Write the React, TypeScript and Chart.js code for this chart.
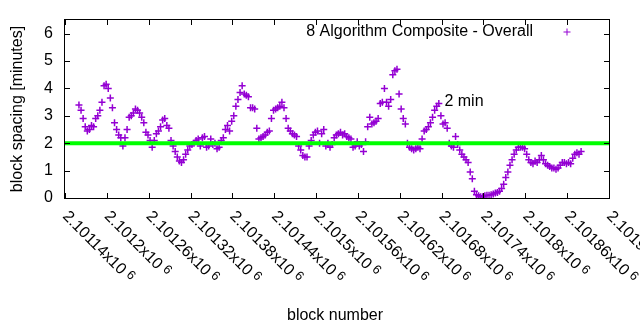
import React, { useEffect, useRef } from "react";
import { Chart, registerables } from "chart.js";

Chart.register(...registerables);

const SERIES_LABEL = "8 Algorithm Composite - Overall";
const TARGET_LABEL = "2 min";
const TARGET_MINUTES = 2;
const X_TITLE = "block number";
const Y_TITLE = "block spacing [minutes]";

const X_MIN = 2101140;
const X_MAX = 2101920;
const Y_MIN = 0;
const Y_MAX = 6.5;

const FIRST_BLOCK = 2101160;
const BLOCK_STEP = 3;

// block spacing in minutes, one value per BLOCK_STEP blocks starting at FIRST_BLOCK
const SPACING = [
  3.4, 3.2, 2.9, 2.6, 2.45, 2.5, 2.65, 2.6, 2.9, 3.0,
  3.2, 3.5, 4.1, 4.15, 4.0, 3.65, 3.3, 2.75, 2.5, 2.3,
  2.2, 1.9, 2.2, 2.5, 2.95, 3.0, 3.1, 3.25, 3.2, 3.1,
  2.95, 2.75, 2.4, 2.3, 2.1, 1.85, 2.1, 2.35, 2.45, 2.6,
  2.85, 2.9, 2.65, 2.55, 2.1, 1.9, 1.7, 1.5, 1.35, 1.3,
  1.4, 1.6, 1.75, 1.9, 1.95, 2.0, 2.1, 2.15, 1.9, 2.2,
  2.25, 1.85, 1.9, 2.15, 1.95, 2.0, 1.8, 1.85, 2.1, 2.2,
  2.5, 2.65, 2.45, 2.8, 3.0, 3.35, 3.6, 3.85, 4.1, 3.8,
  3.75, 3.7, 3.3, 3.3, 3.25, 2.55, 2.15, 2.2, 2.25, 2.3,
  2.4, 2.45, 2.9, 3.2, 3.25, 3.3, 3.35, 3.5, 3.3, 2.9,
  2.55, 2.45, 2.35, 2.3, 2.25, 1.9, 1.75, 1.55, 1.5, 1.5,
  1.9, 2.1, 2.3, 2.4, 2.45, 2.0, 2.35, 2.5, 1.9, 2.0,
  1.85, 1.95, 2.2, 2.3, 2.35, 2.4, 2.3, 2.35, 2.25, 2.2,
  2.15, 1.85, 1.9, 2.05, 1.9, 1.95, 1.7, 2.05, 2.6, 2.95,
  2.7, 2.75, 2.8, 2.9, 3.45, 3.5, 4.0, 3.5, 3.35, 3.6,
  4.5, 4.65, 4.7, 3.8, 3.25, 2.9, 2.7, 2.0, 1.85, 1.8,
  1.75, 1.8, 1.85, 1.8, 2.15, 2.45, 2.5, 2.6, 2.75, 2.95,
  3.2, 3.35, 3.45, 3.0, 2.7, 2.75, 2.55, 2.0, 1.9, 1.85,
  2.25, 1.95, 1.75, 1.6, 1.5, 1.4, 1.3, 0.95, 0.7, 0.25,
  0.12, 0.08, 0.05, 0.05, 0.08, 0.1, 0.1, 0.12, 0.15, 0.18,
  0.2, 0.25, 0.35, 0.5, 0.75, 0.95, 1.2, 1.4, 1.6, 1.75,
  1.85, 1.85, 1.85, 1.8, 1.6, 1.4, 1.3, 1.25, 1.35, 1.3,
  1.4, 1.55, 1.4, 1.25, 1.2, 1.15, 1.1, 1.1, 1.05, 1.1,
  1.2, 1.3, 1.3, 1.25, 1.3, 1.25, 1.45, 1.6, 1.65, 1.6,
  1.7,
];

const X_TICK_VALUES = [
  2101140, 2101200, 2101260, 2101320, 2101380, 2101440, 2101500,
  2101560, 2101620, 2101680, 2101740, 2101800, 2101860, 2101920,
];
const X_TICK_MANTISSAS = [
  "2.10114", "2.1012", "2.10126", "2.10132", "2.10138", "2.10144", "2.1015",
  "2.10156", "2.10162", "2.10168", "2.10174", "2.1018", "2.10186", "2.10192",
];
const X_TICK_EXPONENT = "6";
const Y_TICK_VALUES = [0, 1, 2, 3, 4, 5, 6];

// position of the "2 min" note, in data coordinates
const NOTE_X = 2101684;
const NOTE_Y = 3.53;

const PURPLE = "#9400d3";
const GREEN = "#00ff00";
const FONT = '16px "Liberation Sans", Arial, sans-serif';
const SMALL_FONT = '12.8px "Liberation Sans", Arial, sans-serif';

function drawCross(ctx: CanvasRenderingContext2D, x: number, y: number, r: number) {
  ctx.beginPath();
  ctx.moveTo(x - r, y);
  ctx.lineTo(x + r, y);
  ctx.moveTo(x, y - r);
  ctx.lineTo(x, y + r);
  ctx.stroke();
}

const gnuplotPlugin = {
  id: "gnuplotDecor",
  afterDraw(chart: any) {
    const ctx: CanvasRenderingContext2D = chart.ctx;
    const { left, right, top, bottom } = chart.chartArea;
    const xs = chart.scales.x;
    const ys = chart.scales.y;
    ctx.save();
    ctx.strokeStyle = "#000";
    ctx.lineWidth = 1;
    ctx.strokeRect(left - 0.5, top - 0.5, right - left + 1, bottom - top + 1);

    const tick = 5;
    ctx.beginPath();
    for (const v of Y_TICK_VALUES) {
      const py = Math.round(ys.getPixelForValue(v)) + 0.5;
      ctx.moveTo(left, py);
      ctx.lineTo(left + tick, py);
      ctx.moveTo(right, py);
      ctx.lineTo(right - tick, py);
    }
    for (const v of X_TICK_VALUES) {
      const px = Math.round(xs.getPixelForValue(v)) + 0.5;
      ctx.moveTo(px, bottom);
      ctx.lineTo(px, bottom - tick);
      ctx.moveTo(px, top);
      ctx.lineTo(px, top + tick);
    }
    ctx.stroke();

    ctx.fillStyle = "#000";
    ctx.font = FONT;
    ctx.textAlign = "right";
    ctx.textBaseline = "middle";
    for (const v of Y_TICK_VALUES) {
      ctx.fillText(String(v), left - 12, ys.getPixelForValue(v));
    }

    X_TICK_VALUES.forEach((v, i) => {
      const px = xs.getPixelForValue(v);
      ctx.save();
      ctx.translate(px, bottom + 16);
      ctx.rotate(Math.PI / 4);
      ctx.textAlign = "left";
      ctx.textBaseline = "middle";
      ctx.font = FONT;
      const main = X_TICK_MANTISSAS[i] + "x10";
      ctx.fillText(main, 0, 0);
      const w = ctx.measureText(main).width;
      ctx.font = SMALL_FONT;
      ctx.fillText(X_TICK_EXPONENT, w + 4, -3);
      ctx.restore();
    });

    ctx.font = FONT;
    ctx.textAlign = "center";
    ctx.textBaseline = "middle";
    ctx.fillText(X_TITLE, (left + right) / 2 - 2, bottom + 118);
    ctx.save();
    ctx.translate(17.5, (top + bottom) / 2);
    ctx.rotate(-Math.PI / 2);
    ctx.fillText(Y_TITLE, 0, 0);
    ctx.restore();

    ctx.textAlign = "right";
    ctx.fillText(SERIES_LABEL, right - 76, top + 12);
    ctx.strokeStyle = PURPLE;
    drawCross(ctx, right - 42, top + 12, 3.5);

    ctx.fillStyle = "#000";
    ctx.textAlign = "left";
    ctx.fillText(TARGET_LABEL, xs.getPixelForValue(NOTE_X), ys.getPixelForValue(NOTE_Y));
    ctx.restore();
  },
};

export default function App() {
  const ref = useRef<HTMLCanvasElement | null>(null);
  useEffect(() => {
    if (!ref.current) return;
    const points = SPACING.map((y, i) => ({ x: FIRST_BLOCK + i * BLOCK_STEP, y }));
    const chart = new Chart(ref.current, {
      type: "scatter",
      data: {
        datasets: [
          {
            type: "line",
            label: TARGET_LABEL,
            data: [
              { x: X_MIN, y: TARGET_MINUTES },
              { x: X_MAX, y: TARGET_MINUTES },
            ],
            borderColor: GREEN,
            backgroundColor: GREEN,
            borderWidth: 4,
            pointRadius: 0,
            order: 0,
          } as any,
          {
            label: SERIES_LABEL,
            data: points,
            pointStyle: "cross",
            pointRadius: 3.5,
            borderColor: PURPLE,
            backgroundColor: PURPLE,
            borderWidth: 1.5,
            order: 1,
          },
        ],
      },
      options: {
        responsive: false,
        animation: false,
        layout: { padding: { left: 65, right: 31, top: 20, bottom: 132 } },
        plugins: { legend: { display: false }, tooltip: { enabled: false } },
        scales: {
          x: { type: "linear", display: false, min: X_MIN, max: X_MAX },
          y: { type: "linear", display: false, min: Y_MIN, max: Y_MAX },
        },
      },
      plugins: [gnuplotPlugin],
    });
    return () => chart.destroy();
  }, []);
  return (
    <div style={{ position: "fixed", left: 0, top: 0, width: 640, height: 330, background: "#fff" }}>
      <canvas ref={ref} width={640} height={330} style={{ display: "block" }} />
    </div>
  );
}
